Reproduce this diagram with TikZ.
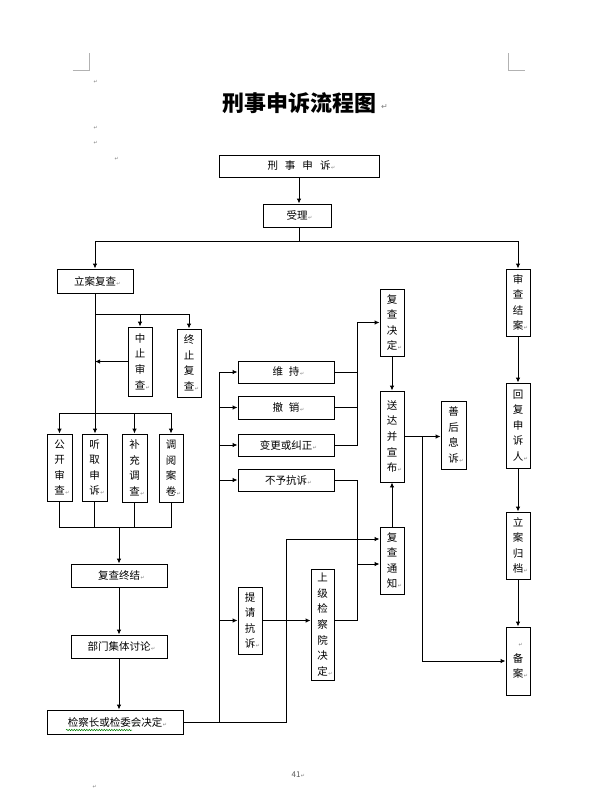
\documentclass[tikz,border=0pt]{standalone}
\usepackage{fontspec}
\setmainfont{Noto Sans CJK SC}
\newfontfamily\symfont{DejaVu Sans}
\usetikzlibrary{arrows.meta,decorations.pathmorphing}

\newcommand{\ret}{\rlap{\kern0.5pt\symfont\fontsize{5}{5}\selectfont\color{gray}↵}}

\tikzset{
    box/.style={draw, inner sep=0pt, align=center, font=\fontsize{10.5}{15.6}\selectfont},
    arr/.style={-{Latex[length=5pt,width=4.5pt]}},
}

\begin{document}
\begin{tikzpicture}[x=1pt, y=-1pt, line width=0.9pt]
            \useasboundingbox (0,0) rectangle (595,809);

            \draw[gray!60, line width=0.6pt] (72.5,70) -- (89.6,70) -- (89.6,53);
            \draw[gray!60, line width=0.6pt] (508,53) -- (508,70) -- (525,70);

            \node[font=\fontsize{22}{22}\selectfont\bfseries] (title) at (299,103) {刑事申诉流程图};
            \node[anchor=west, inner sep=1pt, text=gray, font=\symfont\fontsize{8}{8}\selectfont] (tret) at ([yshift=-4pt]title.east) {↵};
            \foreach \p [count=\i] in {(93,82),(93,128),(93,143),(114,159),(92,787)}
                \node[inner sep=0pt] (pm\i) at \p {\ret};

            \node[box, minimum width=160, minimum height=22] (ss) at (299,166) {刑\hspace{7pt}事\hspace{7pt}申\hspace{7pt}诉\ret};
            \node[box, minimum width=68, minimum height=23] (sl) at (297,215.5) {受理\ret};
            \node[box, minimum width=76, minimum height=24] (la) at (95,281) {立案复查\ret};
            \node[box, minimum width=24, minimum height=69] (zz) at (140,361.5) {中\\止\\审\\查\ret};
            \node[box, minimum width=24, minimum height=68] (zf) at (189,363) {终\\止\\复\\查\ret};

            \node[box, minimum width=25, minimum height=67] (gk) at (59.5,467.5) {公\\开\\审\\查\ret};
            \node[box, minimum width=25, minimum height=67] (tq) at (94.5,467.5) {听\\取\\申\\诉\ret};
            \node[box, minimum width=25, minimum height=68] (bc) at (134.5,468) {补\\充\\调\\查\ret};
            \node[box, minimum width=24, minimum height=68] (dy) at (171,468) {调\\阅\\案\\卷\ret};

            \node[box, minimum width=96, minimum height=23] (fczj) at (119,575.5) {复查终结\ret};
            \node[box, minimum width=96, minimum height=23] (bm) at (119,646.5) {部门集体讨论\ret};
            \node[box, minimum width=136, minimum height=24] (jcz) at (115,722) {检察长或检委会决定\ret};
            \draw[green!50!black, line width=0.5pt, decorate, decoration={snake, amplitude=0.7pt, segment length=2.5pt}]
                ([shift={(-49,8)}]jcz.center) -- ++(66,0);

            \node[box, minimum width=96, minimum height=22] (wc) at (286,372) {维\hspace{6pt}持\ret};
            \node[box, minimum width=96, minimum height=23] (cx) at (286,407.5) {撤\hspace{6pt}销\ret};
            \node[box, minimum width=96, minimum height=22] (bg) at (286,445) {变更或纠正\ret};
            \node[box, minimum width=96, minimum height=22] (bk) at (286,480) {不予抗诉\ret};
            \node[box, minimum width=24, minimum height=67] (tqk) at (250,620.5) {提\\请\\抗\\诉\ret};
            \node[box, minimum width=23, minimum height=111] (sj) at (322.5,624.5) {上\\级\\检\\察\\院\\决\\定\ret};

            \node[box, minimum width=24, minimum height=67] (jd) at (392,322.5) {复\\查\\决\\定\ret};
            \node[box, minimum width=24, minimum height=91] (sd) at (392,436.5) {送\\达\\并\\宣\\布\ret};
            \node[box, minimum width=24, minimum height=67] (tz) at (392,560.5) {复\\查\\通\\知\ret};
            \node[box, minimum width=25, minimum height=68] (sh) at (453.5,435) {善\\后\\息\\诉\ret};

            \node[box, minimum width=24, minimum height=67] (scja) at (518,302.5) {审\\查\\结\\案\ret};
            \node[box, minimum width=24, minimum height=85] (hf) at (518,425.5) {回\\复\\申\\诉\\人\ret};
            \node[box, minimum width=24, minimum height=67] (lg) at (518,545.5) {立\\案\\归\\档\ret};
            \node[box, minimum width=24, minimum height=68] (ba) at (518,661) {\ret\\备\\案\ret};

            \node[text=gray!70!black, font=\fontsize{8}{8}\selectfont] (pg) at (296,775) {41\ret};

            \coordinate (fk1) at (299,241);
            \coordinate (fk2) at (95,314);
            \coordinate (fk3) at (95,413);
            \coordinate (fk4) at (119,527);
            \coordinate (fk5) at (286,539);
            \coordinate (lb) at (219,0);
            \coordinate (rb) at (357,0);
            \coordinate (fk7) at (422,0);
            \coordinate (tzin) at ([yshift=-3.5pt]tz.west);

            \draw[arr] (ss.south) -- (ss.south |- sl.north);
            \draw (ss.south |- sl.south) -- (fk1);
            \draw[arr] (fk1) -| (la.north);
            \draw[arr] (fk1) -| (scja.north);

            \draw[arr] (la.south) -- (la.south |- tq.north);
            \draw[arr] (fk2) -| (zz.north);
            \draw[arr] (fk2) -| (zf.north);
            \draw[arr] (zz.west) -- (zz.west -| la.south);
            \foreach \n in {gk,bc,dy}
                \draw[arr] (fk3) -| (\n.north);
            \foreach \n in {gk,tq,bc,dy}
                \draw (\n.south) |- (fk4);
            \draw[arr] (fk4) -- (fczj.north);
            \draw[arr] (fczj) -- (bm);
            \draw[arr] (bm.south) -- (bm.south |- jcz.north);

            \draw (jcz.east) -| (fk5);
            \draw[arr] (fk5) -- (fk5 -| tz.west);
            \draw (lb |- jcz.east) -- (lb |- wc.west);
            \foreach \n in {wc,cx,bg,bk,tqk}
                \draw[arr] (lb |- \n.west) -- (\n.west);
            \draw[arr] (tqk.east) -- (tqk.east -| sj.west);

            \foreach \n in {wc,cx}
                \draw (\n.east) -- (rb |- \n.east);
            \draw[arr] (bg.east) -| (rb |- jd.west) -- (jd.west);
            \draw (bk.east) -| (rb |- tqk.east) -- (sj.east |- tqk.east);
            \draw[arr] (rb |- tzin) -- (tzin);

            \draw[arr] (jd) -- (sd);
            \draw[arr] (tz) -- (sd);
            \draw[arr] (sd.east) -- (sd.east -| sh.west);
            \draw[arr] (fk7 |- sd.east) |- (ba.west);

            \draw[arr] (scja) -- (hf);
            \draw[arr] (hf) -- (lg);
            \draw[arr] (lg) -- (ba);
\end{tikzpicture}
\end{document}
